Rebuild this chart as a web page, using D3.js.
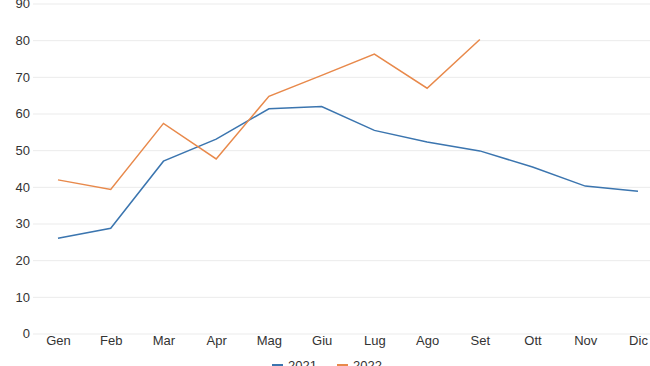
<!DOCTYPE html>
<html><head><meta charset="utf-8">
<script src="https://cdn.jsdelivr.net/npm/d3@7"></script>
<style>
html,body{margin:0;padding:0;background:#fff;overflow:hidden;}
svg{display:block;font-family:Arial,"Liberation Sans",sans-serif;}
</style></head>
<body>
<svg id="chart" width="650" height="366"></svg>
<script>
const months = ["Gen","Feb","Mar","Apr","Mag","Giu","Lug","Ago","Set","Ott","Nov","Dic"];
const series2021 = [26.0,28.7,47.0,53.0,61.3,61.9,55.4,52.2,49.8,45.4,40.2,38.8];
const series2022 = [41.9,39.3,57.3,47.6,64.7,70.4,76.2,66.9,80.2];
const yTicks = [0,10,20,30,40,50,60,70,80,90];
const seriesNames = ["2021","2022"];
const seriesColors = ["#3b75af","#e8894b"];

const svg = d3.select("#chart");
const x = d3.scalePoint().domain(months).range([58,638]);
const y = d3.scaleLinear().domain([0,90]).range([333.5,3.5]);

// gridlines + y labels
const yAxis = svg.append("g").attr("transform","translate(33,0)")
  .call(d3.axisLeft(y).tickValues(yTicks).tickSize(-617).tickSizeOuter(0).tickPadding(3));
yAxis.select(".domain").remove();
yAxis.selectAll(".tick line").attr("stroke","#ebebeb").attr("stroke-width",1);
yAxis.selectAll(".tick text").attr("fill","#333").attr("font-size","13px").attr("dy","0.32em");

// x labels
const xAxis = svg.append("g").attr("transform","translate(0,333.5)")
  .call(d3.axisBottom(x).tickSize(0).tickPadding(2));
xAxis.select(".domain").remove();
xAxis.selectAll(".tick text").attr("fill","#333").attr("font-size","13px");

const line = d3.line().x((d,i)=>x(months[i])).y(d=>y(d));
[series2021, series2022].forEach((s,k)=>{
  svg.append("path").datum(s).attr("d",line)
    .attr("fill","none").attr("stroke",seriesColors[k]).attr("stroke-width",1.5)
    .attr("stroke-linejoin","miter");
});

// legend
const lg = svg.append("g");
const lx = [272, 337];
seriesNames.forEach((n,k)=>{
  lg.append("line").attr("x1",lx[k]).attr("x2",lx[k]+11).attr("y1",365).attr("y2",365)
    .attr("stroke",seriesColors[k]).attr("stroke-width",2);
  lg.append("text").attr("x",lx[k]+16).attr("y",370).attr("font-size","13px")
    .attr("fill","#333").text(n);
});
</script>
</body></html>
